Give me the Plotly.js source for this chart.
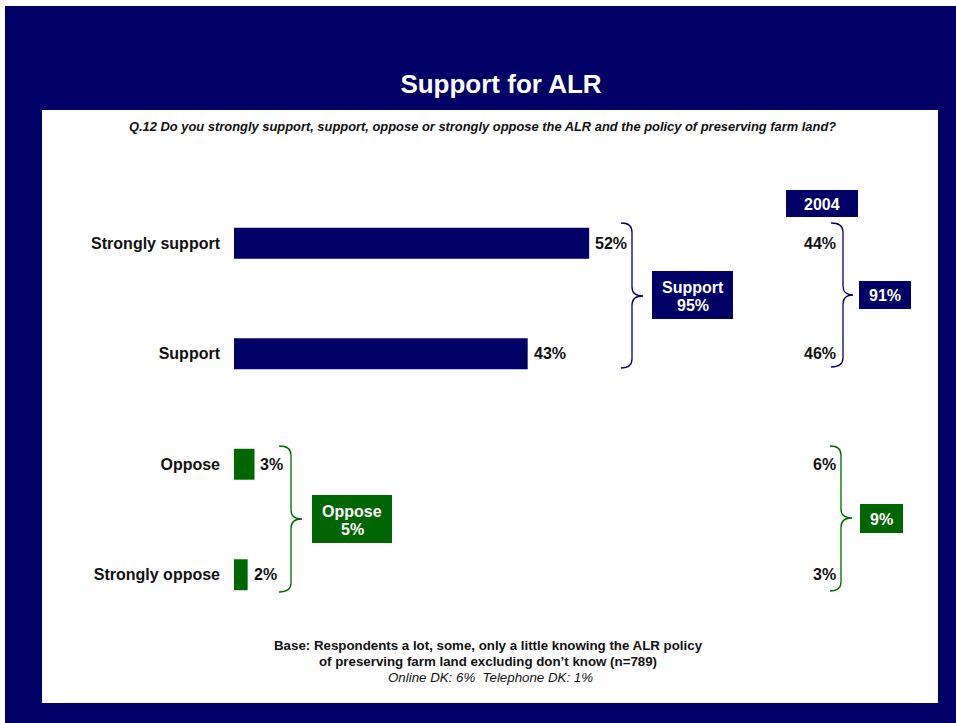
<!DOCTYPE html>
<html>
<head>
<meta charset="utf-8">
<script src="https://cdn.plot.ly/plotly-3.0.1.min.js"></script>
<style>
html,body{margin:0;padding:0;background:#fff;}
#chart{width:956px;height:723px;}
</style>
</head>
<body>
<div id="chart"></div>
<script>
// ---- data ----
const categories = ['Strongly support', 'Support', 'Oppose', 'Strongly oppose'];
const valuesCurrent = [52, 43, 3, 2];
const values2004 = [44, 46, 6, 3];
const groupNames = ['Support', 'Oppose'];
const groupTotalsCurrent = [95, 5];
const groupTotals2004 = [91, 9];
const comparisonYear = '2004';
const titleText = 'Support for ALR';
const questionText = 'Q.12 Do you strongly support, support, oppose or strongly oppose the ALR and the policy of preserving farm land?';
const baseLines = ['Base: Respondents a lot, some, only a little knowing the ALR policy',
                   'of preserving farm land excluding don\u2019t know (n=789)'];
const dkLine = 'Online DK: 6%  Telephone DK: 1%';

// ---- styling / geometry ----
const NAVY = '#000066', GREEN = '#006600';
const W = 956, H = 723, ML = 234, MR = 39, MT = 188, MB = 93;
const PW = W - ML - MR, PH = H - MT - MB;
const xp = px => (px - ML) / PW;
const yp = py => (H - MB - py) / PH;
const FONT = 'Arial, "Liberation Sans", Helvetica, sans-serif';
const groupColor = [NAVY, NAVY, GREEN, GREEN];

function rect(x0, y0, x1, y1, color) {
  return {type: 'rect', xref: 'paper', yref: 'paper', x0: xp(x0), x1: xp(x1), y0: yp(y1), y1: yp(y0),
          fillcolor: color, line: {width: 0}, layer: 'below'};
}
function rectAbove(x0, y0, x1, y1, color) {
  const r = rect(x0, y0, x1, y1, color); r.layer = 'above'; return r;
}
function brace(x0, xv, xt, yT, yM, yB, color) {
  const r = 9;
  const P = (x, y) => xp(x) + ',' + yp(y);
  const path = 'M' + P(x0, yT) + ' Q' + P(xv, yT) + ' ' + P(xv, yT + r) +
    ' L' + P(xv, yM - r) + ' Q' + P(xv, yM) + ' ' + P(xt, yM) +
    ' Q' + P(xv, yM) + ' ' + P(xv, yM + r) +
    ' L' + P(xv, yB - r) + ' Q' + P(xv, yB) + ' ' + P(x0, yB);
  return {type: 'path', xref: 'paper', yref: 'paper', path: path, line: {color: color, width: 1.3}, layer: 'above'};
}

const shapes = [
  rect(5, 6, 956, 723, NAVY),
  rect(42, 110, 938, 703, '#ffffff'),
  brace(621, 632, 643, 223, 296, 368, NAVY),
  brace(831, 843, 853, 223, 295, 367, NAVY),
  brace(279, 291, 302, 446, 519, 592, GREEN),
  brace(830, 841, 852, 446, 518, 591, GREEN),
  rectAbove(652, 271, 733, 319, NAVY),
  rectAbove(312, 495, 392, 543, GREEN),
  rectAbove(786, 190, 858, 217, NAVY),
  rectAbove(859, 281, 911, 309, NAVY),
  rectAbove(860, 504, 903, 533, GREEN)
];

const annotations = [];
// value labels for current bars and the 2004 column
categories.forEach((c, i) => {
  annotations.push({xref: 'x', yref: 'y', x: valuesCurrent[i], y: c, text: valuesCurrent[i] + '%',
    showarrow: false, xanchor: 'left', xshift: 4,
    font: {family: FONT, size: 16, color: '#111', weight: 'bold'}});
  annotations.push({xref: 'paper', yref: 'y', x: xp(838), y: c, text: values2004[i] + '%',
    showarrow: false, xanchor: 'right',
    font: {family: FONT, size: 16, color: '#111', weight: 'bold'}});
});
function boxText(cx, cy, text) {
  annotations.push({xref: 'paper', yref: 'paper', x: xp(cx), y: yp(cy), text: text, showarrow: false,
    xanchor: 'center', yanchor: 'middle',
    font: {family: FONT, size: 16, color: '#ffffff', weight: 'bold'}});
}
boxText(692.5, 287, groupNames[0]);
boxText(692.5, 305, groupTotalsCurrent[0] + '%');
boxText(352, 511, groupNames[1]);
boxText(352, 529, groupTotalsCurrent[1] + '%');
boxText(822, 204, comparisonYear);
boxText(885, 295.5, groupTotals2004[0] + '%');
boxText(881.5, 519, groupTotals2004[1] + '%');

function plainText(cx, cy, text, size, bold, italic) {
  annotations.push({xref: 'paper', yref: 'paper', x: xp(cx), y: yp(cy), text: text, showarrow: false,
    xanchor: 'center', yanchor: 'middle',
    font: {family: FONT, size: size, color: '#111', weight: bold ? 'bold' : 'normal', style: italic ? 'italic' : 'normal'}});
}
plainText(482, 126, questionText, 12.9, true, true);
plainText(488, 645, baseLines[0], 13.3, true, false);
plainText(488, 661, baseLines[1], 13.3, true, false);
plainText(490, 677, dkLine, 13.3, false, true);

const trace = {
  type: 'bar', orientation: 'h',
  x: valuesCurrent, y: categories,
  marker: {color: groupColor, line: {width: 0}},
  width: 0.28,
  hoverinfo: 'x+y'
};

const layout = {
  width: W, height: H,
  margin: {l: ML, r: MR, t: MT, b: MB, pad: 0},
  paper_bgcolor: '#ffffff',
  plot_bgcolor: 'rgba(0,0,0,0)',
  showlegend: false,
  title: {text: titleText, xref: 'container', yref: 'container', x: 501 / W, y: 1 - 84 / H,
          xanchor: 'center', yanchor: 'middle',
          font: {family: FONT, size: 26, color: '#ffffff', weight: 'bold'}},
  xaxis: {range: [0, 100], visible: false, fixedrange: true},
  yaxis: {type: 'category', categoryorder: 'array', categoryarray: categories,
          range: [3.5, -0.5], showgrid: false, zeroline: false, showline: false,
          ticks: '', ticklabelstandoff: 13,
          tickfont: {family: FONT, size: 16, color: '#111', weight: 'bold'}, fixedrange: true},
  shapes: shapes,
  annotations: annotations
};

Plotly.newPlot('chart', [trace], layout, {displayModeBar: false, staticPlot: true});
</script>
</body>
</html>
